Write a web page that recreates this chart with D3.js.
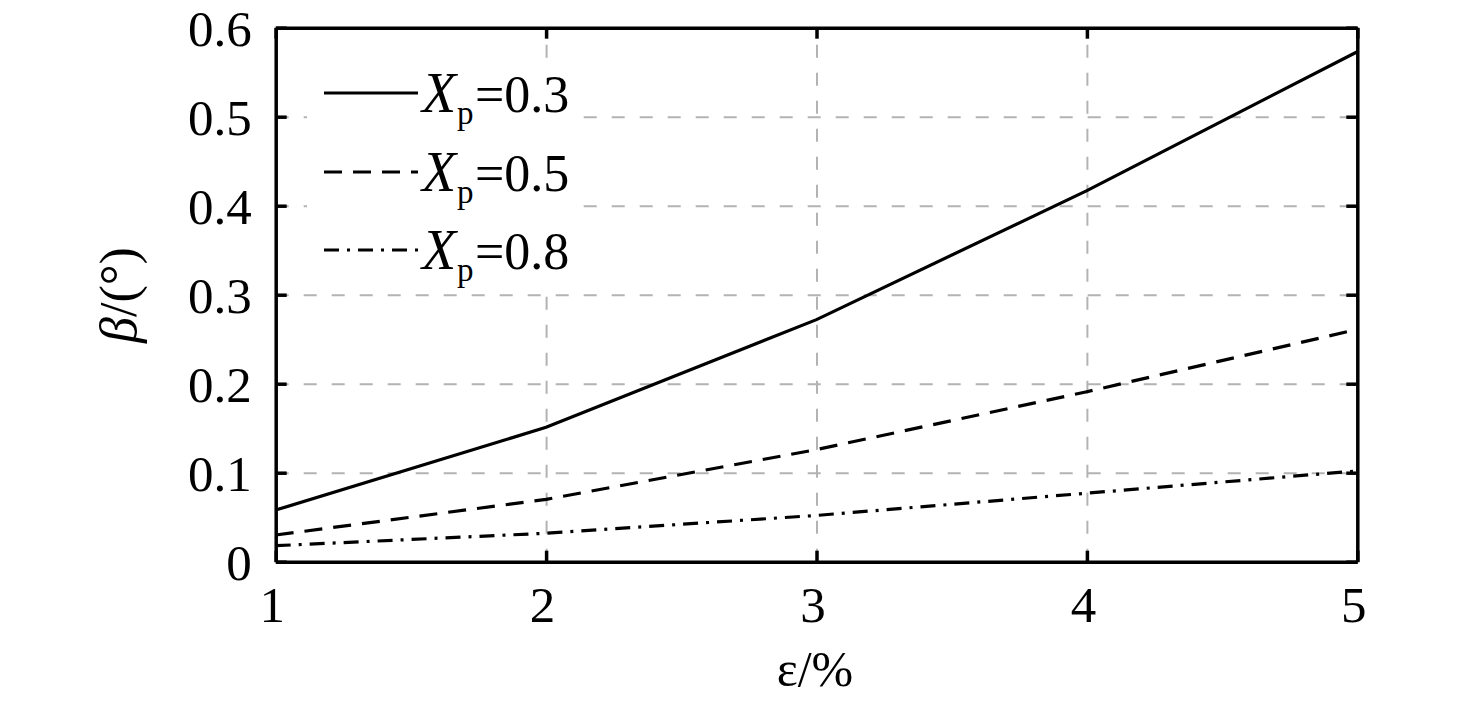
<!DOCTYPE html>
<html>
<head>
<meta charset="utf-8">
<script src="https://cdn.jsdelivr.net/npm/d3@7"></script>
<style>
  body { margin: 0; background: #fff; }
  svg text { font-family: "Liberation Serif", "Times New Roman", serif; fill: #000; }
</style>
</head>
<body>
<svg width="1476" height="703"></svg>
<script>
// **** Data ****

var strains = [1, 2, 3, 4, 5];           // epsilon / %
var seriesNames = ['0.3', '0.5', '0.8'];  // Xp values
var betaXp03 = [0.058, 0.151, 0.272, 0.417, 0.573];
var betaXp05 = [0.030, 0.070, 0.126, 0.191, 0.261];
var betaXp08 = [0.018, 0.032, 0.052, 0.077, 0.102];
var xTicks = [1, 2, 3, 4, 5];
var yTicks = [0, 0.1, 0.2, 0.3, 0.4, 0.5, 0.6];

var series = [
    {name: seriesNames[0], values: betaXp03, dash: null},
    {name: seriesNames[1], values: betaXp05, dash: '18,11'},
    {name: seriesNames[2], values: betaXp08, dash: '15,8,3,8'}
];

// **** Scales ****

var plotLeft = 275.7, plotRight = 1357.3, plotTop = 27.7, plotBottom = 561.7;

var xScale = d3.scaleLinear().domain([1, 5]).range([plotLeft, plotRight]);
var yScale = d3.scaleLinear().domain([0, 0.6]).range([plotBottom, plotTop]);

var svg = d3.select('svg');

// grid
function styleGrid(g) {
    g.select('.domain').remove();
    g.selectAll('line').attr('stroke', '#b3b3b3')
        .attr('stroke-width', 2).attr('stroke-dasharray', '13,15');
}

svg.append('g')
    .attr('transform', 'translate(0,' + plotBottom + ')')
    .call(d3.axisBottom(xScale).tickValues(xTicks.slice(1, -1))
        .tickSize(-(plotBottom - plotTop)).tickFormat(''))
    .call(styleGrid);

svg.append('g')
    .attr('transform', 'translate(' + plotLeft + ',0)')
    .call(d3.axisLeft(yScale).tickValues(yTicks.slice(1, -1))
        .tickSize(-(plotRight - plotLeft)).tickFormat(''))
    .call(styleGrid);

// lines
var line = d3.line()
    .x(function(d, i) { return xScale(strains[i]); })
    .y(function(d) { return yScale(d); });

svg.selectAll('path.series')
    .data(series)
    .enter()
    .append('path')
    .attr('class', 'series')
    .attr('d', function(d) { return line(d.values); })
    .attr('fill', 'none')
    .attr('stroke', '#000')
    .attr('stroke-width', 3.2)
    .attr('stroke-dasharray', function(d) { return d.dash; });

// axes, ticks pointing inward on all four sides
function styleAxis(g) {
    g.select('.domain').attr('stroke', '#000').attr('stroke-width', 3.5);
    g.selectAll('.tick line').attr('stroke', '#000').attr('stroke-width', 3.5);
    g.selectAll('text').style('font-size', '51px')
        .attr('font-family', null).attr('fill', '#000');
}

svg.append('g')
    .attr('transform', 'translate(0,' + plotBottom + ')')
    .call(d3.axisBottom(xScale).tickValues(xTicks).tickSizeInner(-11)
        .tickSizeOuter(0).tickPadding(24).tickFormat(d3.format('d')))
    .call(styleAxis)
    .call(function(g) { g.selectAll('text').attr('dx', -4); });

svg.append('g')
    .attr('transform', 'translate(0,' + plotTop + ')')
    .call(d3.axisTop(xScale).tickValues(xTicks).tickSizeInner(-11)
        .tickSizeOuter(0).tickFormat(''))
    .call(styleAxis);

svg.append('g')
    .attr('transform', 'translate(' + plotLeft + ',0)')
    .call(d3.axisLeft(yScale).tickValues(yTicks).tickSizeInner(-11)
        .tickSizeOuter(0).tickPadding(24)
        .tickFormat(function(d) { return d === 0 ? '0' : d3.format('.1f')(d); }))
    .call(styleAxis)
    .call(function(g) { g.selectAll('text').attr('dy', '0.34em'); });

svg.append('g')
    .attr('transform', 'translate(' + plotRight + ',0)')
    .call(d3.axisRight(yScale).tickValues(yTicks).tickSizeInner(-11)
        .tickSizeOuter(0).tickFormat(''))
    .call(styleAxis);

// axis titles
svg.append('text')
    .attr('transform', 'translate(815,686)')
    .attr('text-anchor', 'middle')
    .style('font-size', '50px')
    .text('ε/%');

var yTitle = svg.append('text')
    .attr('transform', 'translate(136,295) rotate(-90)')
    .attr('text-anchor', 'middle')
    .style('font-size', '52px');
yTitle.append('tspan').style('font-style', 'italic').text('β');
yTitle.append('tspan').text('/(°)');

// legend
var legend = svg.append('g');

legend.append('rect')
    .attr('x', 307).attr('y', 59)
    .attr('width', 275).attr('height', 231)
    .attr('fill', '#fff');

var rowY = [93, 172, 250];

var rows = legend.selectAll('g.row')
    .data(series)
    .enter()
    .append('g')
    .attr('class', 'row')
    .attr('transform', function(d, i) { return 'translate(0,' + rowY[i] + ')'; });

rows.append('line')
    .attr('x1', 324).attr('x2', 418)
    .attr('stroke', '#000')
    .attr('stroke-width', 3.2)
    .attr('stroke-dasharray', function(d) { return d.dash; });

var label = rows.append('text')
    .attr('x', 422)
    .attr('y', 19)
    .style('font-size', '52px');
label.append('tspan').style('font-style', 'italic').style('font-size', '56px').text('X');
label.append('tspan').attr('x', 457).attr('dy', 12).style('font-size', '33px').text('p');
label.append('tspan').attr('x', 475).attr('dy', -12).text(function(d) { return '=' + d.name; });
</script>
</body>
</html>
